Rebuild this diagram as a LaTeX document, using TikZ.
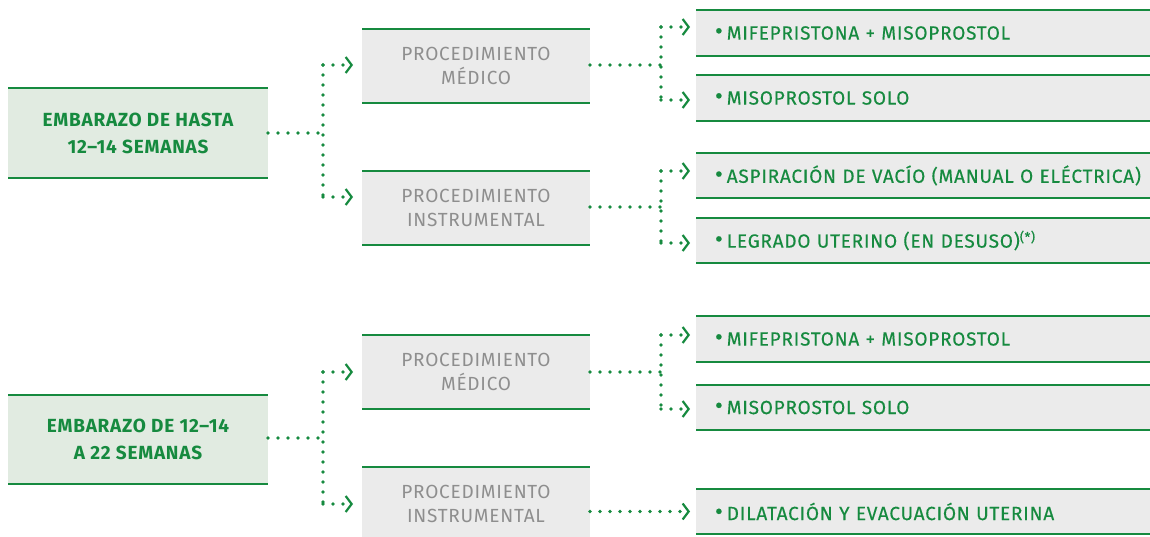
\documentclass[tikz,border=0pt]{standalone}
\usepackage{fontspec}
\setmainfont{Fira Sans}[LetterSpace=4]
\newfontfamily\medfont{Fira Sans}[LetterSpace=4, FakeBold=0.35]
\usetikzlibrary{arrows.meta}
\definecolor{gr}{HTML}{168A3F}
\definecolor{lgr}{HTML}{E1EBE1}
\definecolor{lgray}{HTML}{EBEBEB}
\definecolor{tgray}{HTML}{8E8E8E}
\tikzset{
  box/.style={anchor=north west, inner sep=0pt, outer sep=0pt},
  leftbox/.style={box, fill=lgr, minimum width=260pt, text=gr, font=\fontsize{19}{27}\selectfont\bfseries, align=center},
  midbox/.style={box, fill=lgray, minimum width=228pt, minimum height=74pt, text=tgray, font=\fontsize{19}{24}\selectfont, align=center},
  rightbox/.style={box, fill=lgray, minimum width=460pt, text=gr, font=\medfont\fontsize{19}{22}\selectfont, align=left, text width=430pt, inner xsep=19pt},
  rule/.style={draw=gr, line width=2.6pt},
  dots/.style={draw=gr, line width=3.6pt, line cap=round, dash pattern=on 0pt off 10pt},
  arr/.style={dots, -{Straight Barb[length=6pt, width=16pt, line width=2.2pt, line cap=butt]}}
}
\newcommand{\bul}{{\fontsize{24}{22}\selectfont\raisebox{0.5pt}{\textbullet}}\hspace{4pt}}
\newcommand{\astr}{\raisebox{6pt}{\fontsize{13}{13}\selectfont(*)}}
\begin{document}
\begin{tikzpicture}[x=1pt, y=-1pt]
\clip (0,0) rectangle (1150,537);
\useasboundingbox (0,0) rectangle (1150,537);
% left boxes
\node[leftbox, minimum height=90pt] (lb1) at (8,88) {EMBARAZO DE HASTA\\12--14 SEMANAS};
\node[leftbox, minimum height=89pt] (lb2) at (8,395) {EMBARAZO DE 12--14\\A 22 SEMANAS};
% middle boxes
\node[midbox] (mb1) at (362,29) {PROCEDIMIENTO\\MÉDICO};
\node[midbox] (mb2) at (362,171) {PROCEDIMIENTO\\INSTRUMENTAL};
\node[midbox] (mb3) at (362,335) {PROCEDIMIENTO\\MÉDICO};
\node[midbox] (mb4) at (362,467) {PROCEDIMIENTO\\INSTRUMENTAL};
% right boxes
\node[rightbox, minimum height=46pt] (rb1) at (696,10) {\bul MIFEPRISTONA + MISOPROSTOL};
\node[rightbox, minimum height=46pt] (rb2) at (696,75) {\bul MISOPROSTOL SOLO};
\node[rightbox, minimum height=45pt] (rb3) at (696,153) {\bul ASPIRACIÓN DE VACÍO (MANUAL O ELÉCTRICA)};
\node[rightbox, minimum height=45pt] (rb4) at (696,218) {\bul LEGRADO UTERINO (EN DESUSO)\astr};
\node[rightbox, minimum height=46pt] (rb5) at (696,316) {\bul MIFEPRISTONA + MISOPROSTOL};
\node[rightbox, minimum height=45pt] (rb6) at (696,385) {\bul MISOPROSTOL SOLO};
\node[rightbox, minimum height=45pt] (rb7) at (696,489) {\bul DILATACIÓN Y EVACUACIÓN UTERINA};
% top and bottom rules
\foreach \n in {lb1,lb2,mb1,mb2,mb3,mb4,rb1,rb2,rb3,rb4,rb5,rb6,rb7}{
  \draw[rule] (\n.north west) -- (\n.north east);
  \draw[rule] (\n.south west) -- (\n.south east);
}
% junction coordinates
\coordinate (j1) at (323,133);
\coordinate (j1a) at (323,65);
\coordinate (j1b) at (323,197);
\coordinate (j2) at (661,65);
\coordinate (j2a) at (661,27);
\coordinate (j2b) at (661,100);
\coordinate (j3) at (661,207);
\coordinate (j3a) at (661,171);
\coordinate (j3b) at (661,243);
\coordinate (j4) at (323,438);
\coordinate (j4a) at (323,372);
\coordinate (j4b) at (323,504);
\coordinate (j5) at (661,372);
\coordinate (j5a) at (661,335);
\coordinate (j5b) at (661,409);
% section 1
\draw[dots] (lb1.east |- j1) -- (j1);
\draw[dots] (j1a) -- (j1b);
\draw[arr] (j1a) -- ([xshift=-9pt]mb1.west |- j1a);
\draw[arr] (j1b) -- ([xshift=-9pt]mb2.west |- j1b);
\draw[dots] (mb1.east |- j2) -- (j2);
\draw[dots] (j2a) -- (j2b);
\draw[arr] (j2a) -- ([xshift=-6pt]rb1.west |- j2a);
\draw[arr] (j2b) -- ([xshift=-6pt]rb2.west |- j2b);
\draw[dots] (mb2.east |- j3) -- (j3);
\draw[dots] (j3a) -- (j3b);
\draw[arr] (j3a) -- ([xshift=-6pt]rb3.west |- j3a);
\draw[arr] (j3b) -- ([xshift=-6pt]rb4.west |- j3b);
% section 2
\draw[dots] (lb2.east |- j4) -- (j4);
\draw[dots] (j4a) -- (j4b);
\draw[arr] (j4a) -- ([xshift=-9pt]mb3.west |- j4a);
\draw[arr] (j4b) -- ([xshift=-9pt]mb4.west |- j4b);
\draw[dots] (mb3.east |- j5) -- (j5);
\draw[dots] (j5a) -- (j5b);
\draw[arr] (j5a) -- ([xshift=-6pt]rb5.west |- j5a);
\draw[arr] (j5b) -- ([xshift=-6pt]rb6.west |- j5b);
\draw[arr] (mb4.east |- rb7.west) -- ([xshift=-6pt]rb7.west);
\end{tikzpicture}
\end{document}
